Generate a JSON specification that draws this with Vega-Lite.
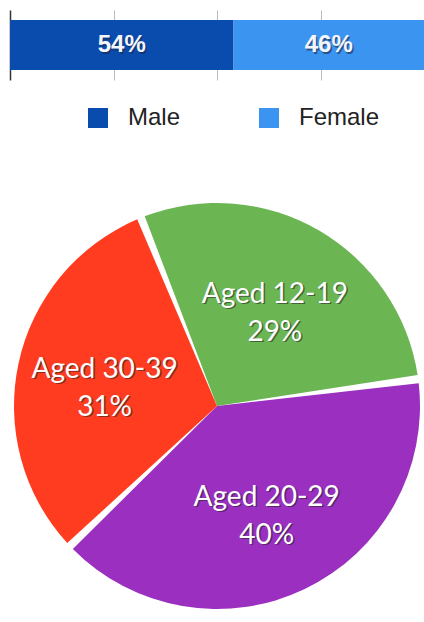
{
  "$schema": "https://vega.github.io/schema/vega-lite/v6.json",
  "padding": {"left": 10, "top": 10, "right": 0, "bottom": 0},
  "background": "white",
  "config": {"view": {"stroke": null}},
  "spacing": 66,
  "resolve": {"scale": {"color": "independent"}, "legend": {"color": "independent"}},
  "vconcat": [
    {
      "width": 414,
      "height": 70,
      "data": {"values": [
        {"gender": "Male", "pct": 54, "ord": 1, "label": "54%"},
        {"gender": "Female", "pct": 46, "ord": 2, "label": "46%"}
      ]},
      "transform": [
        {"stack": "pct", "groupby": [], "sort": [{"field": "ord"}], "as": ["x0", "x1"]},
        {"calculate": "(datum.x0 + datum.x1) / 2", "as": "mid"}
      ],
      "encoding": {
        "y": {"datum": "row", "type": "nominal", "scale": {"paddingInner": 0, "paddingOuter": 0.2},
          "axis": {"labels": false, "ticks": false, "title": null, "domainColor": "#333", "domainWidth": 1.5}}
      },
      "layer": [
        {
          "mark": {"type": "bar"},
          "encoding": {
            "x": {"field": "x0", "type": "quantitative", "scale": {"domain": [0, 100], "nice": false},
              "axis": {"values": [25, 50, 75], "labels": false, "ticks": false, "domain": false, "title": null, "grid": true, "gridColor": "#bbbbbb", "gridWidth": 1}},
            "x2": {"field": "x1"},
            "color": {"field": "gender", "type": "nominal",
              "scale": {"domain": ["Male", "Female"], "range": ["#0a4cae", "#3b95f0"]},
              "legend": {"orient": "none", "legendX": 76, "legendY": 96, "direction": "horizontal", "title": null,
                "symbolType": "square", "symbolSize": 400, "symbolStrokeWidth": 0,
                "labelFontSize": 24, "labelFont": "Liberation Sans", "labelColor": "#222222",
                "labelOffset": 18, "columnPadding": 76}}
          }
        },
        {
          "mark": {"type": "text", "font": "Liberation Sans", "fontWeight": "bold", "fontSize": 24, "fill": "#1a2a50", "opacity": 0.6, "dx": 1.5, "dy": 1.5},
          "encoding": {"x": {"field": "mid", "type": "quantitative"}, "text": {"field": "label"}}
        },
        {
          "mark": {"type": "text", "font": "Liberation Sans", "fontWeight": "bold", "fontSize": 24, "fill": "#f4f6fb"},
          "encoding": {"x": {"field": "mid", "type": "quantitative"}, "text": {"field": "label"}}
        }
      ]
    },
    {
      "width": 414,
      "height": 420,
      "data": {"values": [
        {"age": "Aged 12-19", "pct": 29, "ord": 1, "label": "Aged 12-19\n29%"},
        {"age": "Aged 20-29", "pct": 40, "ord": 2, "label": "Aged 20-29\n40%"},
        {"age": "Aged 30-39", "pct": 31, "ord": 3, "label": "Aged 30-39\n31%"}
      ]},
      "encoding": {
        "theta": {"field": "pct", "type": "quantitative", "stack": true, "scale": {"range": [-0.384, 5.899]}},
        "order": {"field": "ord", "type": "quantitative"}
      },
      "layer": [
        {
          "mark": {"type": "arc", "outerRadius": 203, "padAngle": 0.04},
          "encoding": {
            "color": {"field": "age", "type": "nominal",
              "scale": {"domain": ["Aged 12-19", "Aged 20-29", "Aged 30-39"], "range": ["#6bb553", "#9a2fc0", "#ff3c20"]},
              "legend": null}
          }
        },
        {
          "mark": {"type": "text", "radius": 115, "font": "Lato", "fontSize": 28, "lineBreak": "\n", "lineHeight": 38, "fill": "#222222", "opacity": 0.55, "dx": 1.5, "dy": -10.5},
          "encoding": {"text": {"field": "label"}}
        },
        {
          "mark": {"type": "text", "radius": 115, "font": "Lato", "fontSize": 28, "lineBreak": "\n", "lineHeight": 38, "fill": "white", "dy": -12},
          "encoding": {"text": {"field": "label"}}
        }
      ]
    }
  ]
}
